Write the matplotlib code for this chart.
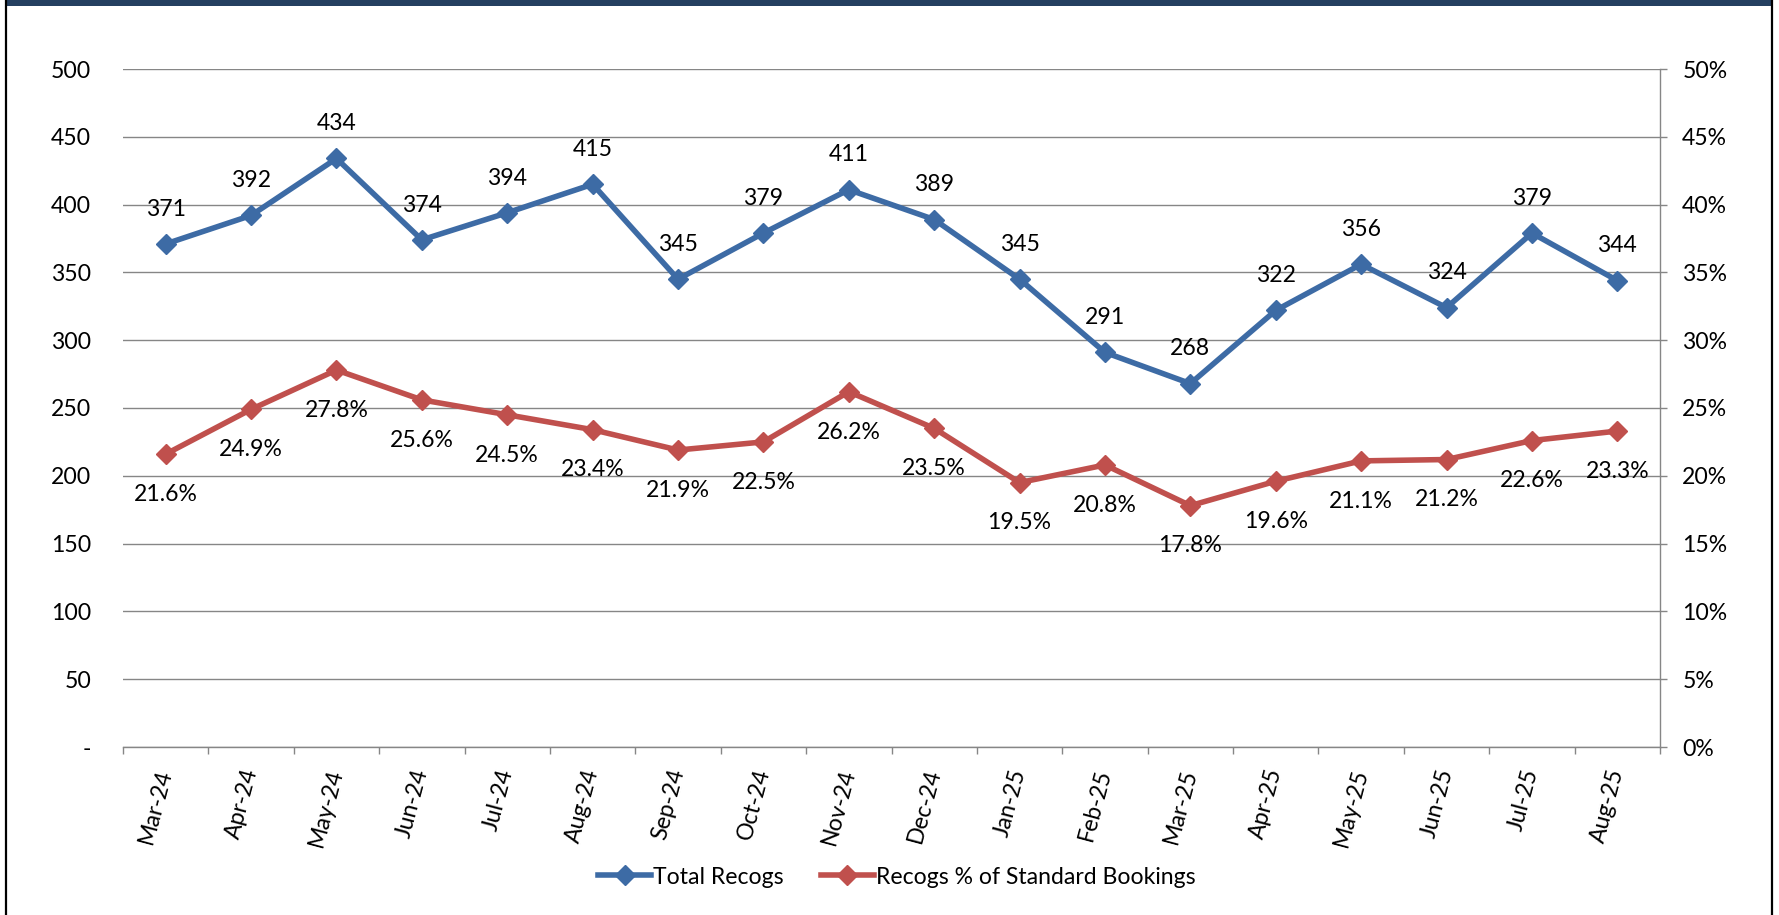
import matplotlib
matplotlib.use("Agg")
import matplotlib.pyplot as plt
from matplotlib.patches import Rectangle
from matplotlib.lines import Line2D
from matplotlib.ticker import FuncFormatter, MultipleLocator

months = ["Mar-24", "Apr-24", "May-24", "Jun-24", "Jul-24", "Aug-24", "Sep-24",
          "Oct-24", "Nov-24", "Dec-24", "Jan-25", "Feb-25", "Mar-25", "Apr-25",
          "May-25", "Jun-25", "Jul-25", "Aug-25"]
total_recogs = [371, 392, 434, 374, 394, 415, 345, 379, 411, 389, 345, 291,
                268, 322, 356, 324, 379, 344]
recogs_pct = [21.6, 24.9, 27.8, 25.6, 24.5, 23.4, 21.9, 22.5, 26.2, 23.5, 19.5,
              20.8, 17.8, 19.6, 21.1, 21.2, 22.6, 23.3]

BLUE = "#3D6BA5"
RED = "#C0504D"
GRID = "#868686"

plt.rcParams['font.family'] = ['Lato', 'DejaVu Sans']
plt.rcParams['font.size'] = 16.6

W, H = 1779, 915
fig = plt.figure(figsize=(W / 100, H / 100), dpi=100)
ax = fig.add_axes([123 / W, 1 - 747 / H, (1660 - 123) / W, (747 - 69) / H])
ax2 = ax.twinx()

x = list(range(len(months)))

ax.plot(x, total_recogs, color=BLUE, lw=4, marker='D', ms=10.5,
        label="Total Recogs", zorder=3)
ax2.plot(x, [p / 100 for p in recogs_pct], color=RED, lw=4, marker='D',
         ms=10.5, label="Recogs % of Standard Bookings", zorder=3)

for xi, v in zip(x, total_recogs):
    ax.annotate(f"{v}", (xi, v), xytext=(0, 25), textcoords='offset points',
                ha='center', va='center')
for xi, p in zip(x, recogs_pct):
    ax2.annotate(f"{p:.1f}%", (xi, p / 100), xytext=(0, -29),
                 textcoords='offset points', ha='center', va='center')

ax.set_xlim(-0.5, len(months) - 0.5)
ax.set_ylim(0, 500)
ax2.set_ylim(0, 0.5)

ax.yaxis.set_major_locator(MultipleLocator(50))
ax.yaxis.set_major_formatter(FuncFormatter(lambda v, _: "-" if v == 0 else f"{v:.0f}"))
ax2.yaxis.set_major_locator(MultipleLocator(0.05))
ax2.yaxis.set_major_formatter(FuncFormatter(lambda v, _: f"{v * 100:.0f}%"))

ax.grid(axis='y', color=GRID, lw=1.0)
ax.set_axisbelow(True)

ax.set_xticks(x)
ax.set_xticklabels(months, rotation=75, rotation_mode='anchor', ha='right',
                   va='center')
ax.set_xticks([i - 0.5 for i in range(len(months) + 1)], minor=True)
ax.tick_params(axis='x', which='major', length=0, pad=16)
ax.tick_params(axis='x', which='minor', length=5, color=GRID, width=1.0)
ax.tick_params(axis='y', length=0, pad=23)
ax2.tick_params(axis='y', length=5, color=GRID, width=1.0, pad=11)

for a in (ax, ax2):
    for side in ('top', 'left', 'right', 'bottom'):
        a.spines[side].set_visible(False)
for side in ('right', 'bottom'):
    ax2.spines[side].set_visible(True)
    ax2.spines[side].set_color(GRID)
    ax2.spines[side].set_linewidth(1.0)

h1, l1 = ax.get_legend_handles_labels()
h2, l2 = ax2.get_legend_handles_labels()
fig.legend(h1 + h2, l1 + l2, loc='center', bbox_to_anchor=(897 / W, 1 - 877 / H),
           ncol=2, frameon=False, handlelength=2.3, handletextpad=0.1,
           columnspacing=1.6)

# frame and header bar
fig.add_artist(Rectangle((6 / W, 1 - 6 / H), (1772 - 6) / W, 6 / H,
                         transform=fig.transFigure, color="#243F60", lw=0))
fig.add_artist(Line2D([6 / W, 6 / W], [0, 1], transform=fig.transFigure,
                      color="black", lw=1.6))
fig.add_artist(Line2D([1772 / W, 1772 / W], [0, 1], transform=fig.transFigure,
                      color="black", lw=1.6))

fig.savefig("out.png", dpi=100)
